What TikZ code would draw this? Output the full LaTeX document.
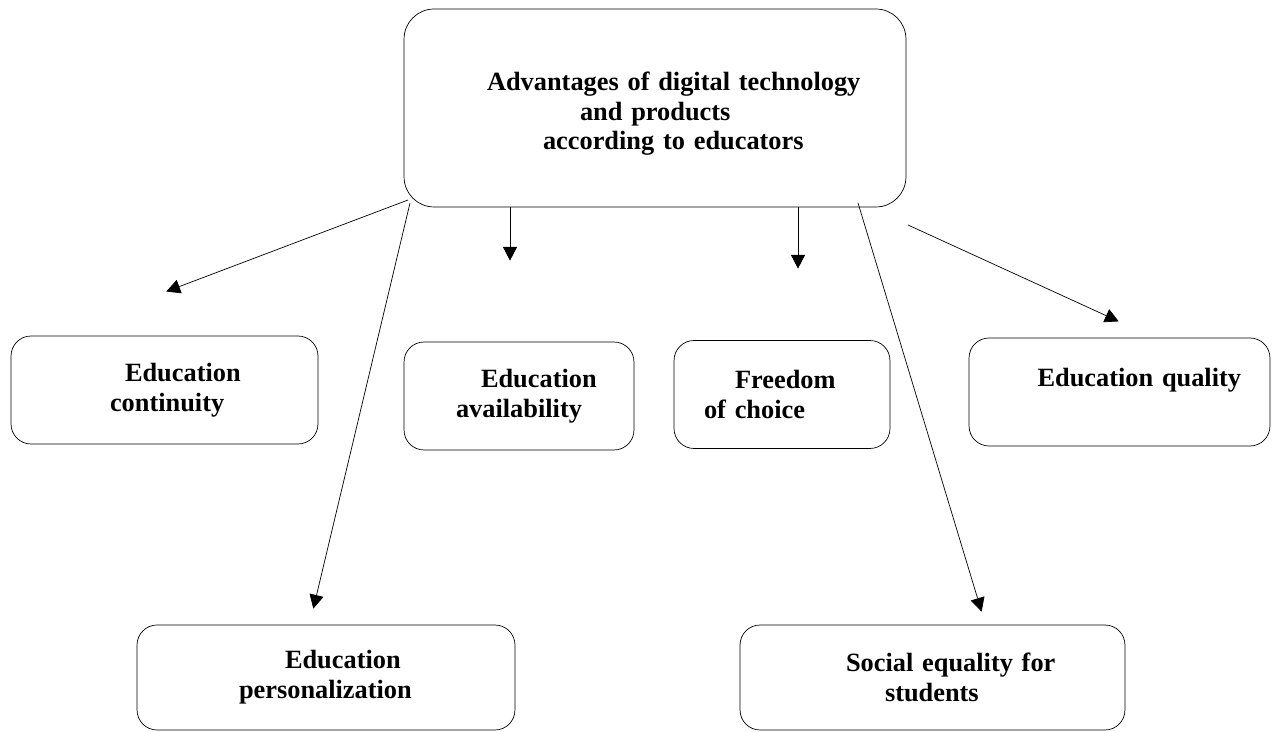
\documentclass[tikz,border=0pt]{standalone}
\usepackage{fontspec}
\setmainfont{Liberation Serif}
\usetikzlibrary{arrows.meta, positioning}

\begin{document}
\begin{tikzpicture}[x=0.02cm, y=-0.02cm]
	\tikzset {>={Triangle[length=9pt,width=9pt]}, line width=1.1pt,
		box/.style={draw, rounded corners=0.4cm, inner sep=0pt, align=left, minimum height=2.16cm, font=\bfseries\fontsize{15}{17}\selectfont} }
	\useasboundingbox (0,0) rectangle (1274,732);

	\node[box, rounded corners=0.6cm, text width=10.04cm, minimum height=3.96cm] (0) at (655,108) {\rule{0pt}{17pt}\hspace*{1.66cm}Advantages of digital technology\\ \hspace*{3.52cm}and products\\ \hspace*{2.78cm}according to educators};
	\node[box, text width=6.14cm] (1) at (164.5,390) {\hspace*{2.28cm}Education\\ \hspace*{1.98cm}continuity};
	\node[box, text width=4.6cm] (2) at (519,396) {\hspace*{1.54cm}Education\\ \hspace*{1.04cm}availability};
	\node[box, text width=4.32cm] (3) at (782,394.5) {\hspace*{1.22cm}Freedom\\ \hspace*{0.6cm}of choice};
	\node[box, text width=6.02cm] (4) at (1119.5,392) {\hspace*{1.37cm}Education quality\\ \mbox{}};
	\node[box, text width=7.56cm, minimum height=2.1cm] (5) at (326,677.5) {\hspace*{2.96cm}Education\\ \hspace*{2.04cm}personalization};
	\node[box, text width=7.7cm, minimum height=2.1cm] (6) at (932.5,677.5) {\hspace*{2.12cm}Social equality for\\ \hspace*{2.9cm}students};

	% arrow ends
	\coordinate (s1) at (408,200);   \coordinate (t1) at (165,292);
	\coordinate (s2) at (510,207);   \coordinate (t2) at (510,262);
	\coordinate (s3) at (798,207);   \coordinate (t3) at (798,270);
	\coordinate (s4) at (908,225);   \coordinate (t4) at (1120,322);
	\coordinate (s5) at (410,203);   \coordinate (t5) at (313,610);
	\coordinate (s6) at (858,203);   \coordinate (t6) at (982,613);

	\draw[->] (s1) -- (t1);
	\draw[->] (s2) -- (t2);
	\draw[->] (s3) -- (t3);
	\draw[->] (s4) -- (t4);
	\draw[->] (s5) -- (t5);
	\draw[->] (s6) -- (t6);
\end{tikzpicture}
\end{document}
